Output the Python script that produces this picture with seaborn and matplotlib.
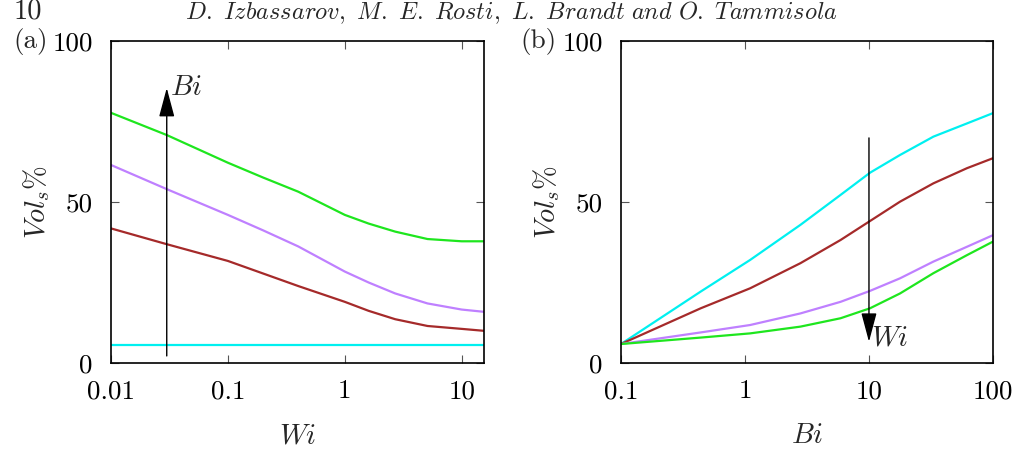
import numpy as np
import pandas as pd
import matplotlib
matplotlib.use("Agg")
import matplotlib.pyplot as plt
import seaborn as sns

# panel (a): Vol_s% against Wi, one curve per Bi
wi_a = [0.01, 0.03, 0.1, 0.2, 0.4, 1.0, 1.6, 2.7, 5.1, 10.0, 15.5]
green_a = [77.7, 70.8, 62.2, 57.6, 53.2, 46.0, 43.3, 40.8, 38.5, 37.8, 37.8]
purple_a = [61.5, 54.0, 46.0, 41.2, 36.2, 28.4, 25.0, 21.6, 18.5, 16.6, 15.9]
brown_a = [41.8, 36.9, 31.7, 27.8, 23.9, 19.0, 16.2, 13.6, 11.5, 10.6, 10.0]
cyan_a = [5.6] * len(wi_a)

# panel (b): Vol_s% against Bi, one curve per Wi
bi_b = [0.1, 0.44, 1.1, 2.8, 5.9, 10.2, 17.8, 33.1, 61.7, 100.0]
cyan_b = [5.9, 22.2, 32.0, 42.9, 52.2, 59.1, 64.6, 70.3, 74.4, 77.6]
brown_b = [5.9, 17.0, 23.2, 31.0, 38.2, 44.1, 50.1, 55.8, 60.5, 63.6]
purple_b = [5.9, 9.5, 11.8, 15.4, 19.0, 22.4, 26.3, 31.5, 36.1, 39.7]
green_b = [5.9, 7.9, 9.2, 11.3, 13.9, 17.0, 21.6, 27.9, 33.5, 37.7]

colors = {"green": "#1ee61e", "purple": "#bf80ff", "brown": "#a52a2a", "cyan": "#00f0f0"}

sns.set_style("ticks")
plt.rcParams["font.family"] = ["cmr10", "DejaVu Serif"]
plt.rcParams["mathtext.fontset"] = "cm"
plt.rcParams["axes.unicode_minus"] = False

fig = plt.figure(figsize=(10.18, 4.5), dpi=100)
ax1 = fig.add_axes([0.109, 0.1933, 0.3664, 0.7156])
ax2 = fig.add_axes([0.610, 0.1933, 0.3654, 0.7156])

FS = 19.5


def draw(ax, x, series):
    for name, y in series:
        df = pd.DataFrame({"x": np.log10(x), "y": y})
        sns.lineplot(data=df, x="x", y="y", ax=ax, color=colors[name], lw=1.6)


def finish(ax, lo, hi, ticks, labels, xlabel):
    ax.set_xlim(lo, hi)
    ax.set_ylim(0, 100)
    ax.set_xticks(np.log10(ticks))
    ax.set_xticklabels(labels)
    ax.set_yticks([0, 50, 100])
    ax.set_yticklabels(["0", "50", "100"])
    ax.tick_params(direction="in", top=True, right=True, length=6, width=0.8,
                   labelsize=FS, pad=12, colors="#555555", labelcolor="black")
    ax.tick_params(axis="y", pad=13)
    ax.set_xlabel(xlabel, fontsize=FS + 1, labelpad=14)
    ax.set_ylabel(r"$Vol_s\%$", fontsize=FS + 1, labelpad=0)
    for s in ax.spines.values():
        s.set_linewidth(1.2)
        s.set_color("black")


arrow = dict(arrowstyle="-|>,head_length=1.5,head_width=0.4", mutation_scale=12,
             color="black", lw=1.0, shrinkA=0, shrinkB=0)

draw(ax1, wi_a, [("green", green_a), ("purple", purple_a), ("brown", brown_a), ("cyan", cyan_a)])
finish(ax1, -2, np.log10(15.5), [0.01, 0.1, 1, 10], ["0.01", "0.1", "1", "10"], r"$Wi$")
ax1.annotate("", xy=(np.log10(0.03), 85.4), xytext=(np.log10(0.03), 2.2), arrowprops=arrow)
ax1.text(np.log10(0.032), 85.4, r"$Bi$", fontsize=FS + 1, ha="left", va="center")

draw(ax2, bi_b, [("cyan", cyan_b), ("brown", brown_b), ("purple", purple_b), ("green", green_b)])
finish(ax2, -1, 2, [0.1, 1, 10, 100], ["0.1", "1", "10", "100"], r"$Bi$")
ax2.annotate("", xy=(1, 6.6), xytext=(1, 69.9), arrowprops=arrow)
ax2.text(1.015, 7.8, r"$Wi$", fontsize=FS + 1, ha="left", va="center")

fig.text(0.047, 0.907, "(a)", fontsize=FS, ha="right", va="center")
fig.text(0.547, 0.907, "(b)", fontsize=FS, ha="right", va="center")
fig.text(0.013, 0.958, "10", fontsize=FS + 1, ha="left", va="baseline")
fig.text(0.502, 0.958,
         r"$\mathit{D.\ Izbassarov,\ M.\ E.\ Rosti,\ L.\ Brandt\ and\ O.\ Tammisola}$",
         fontsize=17.5, ha="center", va="baseline")

fig.savefig("out.png", dpi=100)
